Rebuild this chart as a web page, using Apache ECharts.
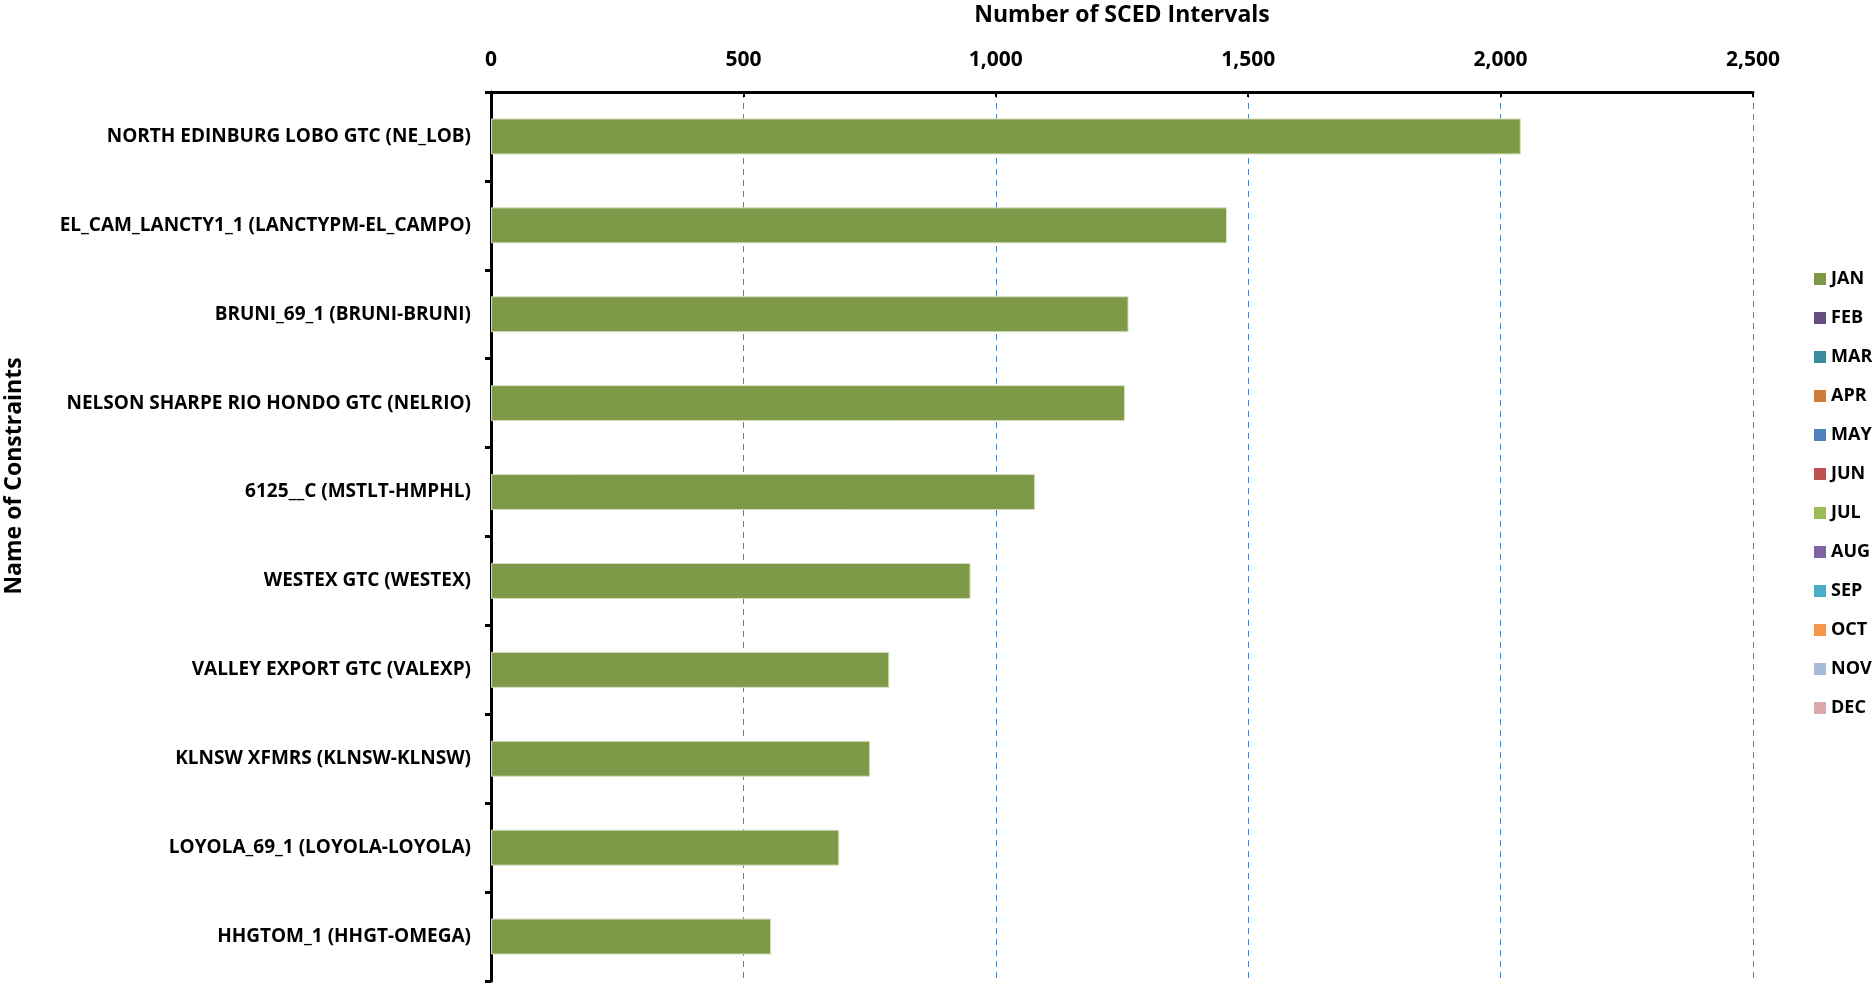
<!DOCTYPE html>
<html>
<head>
<meta charset="utf-8">
<script src="https://cdn.jsdelivr.net/npm/echarts@6/dist/echarts.min.js"></script>
<style>
  html, body { margin: 0; padding: 0; background: #fff; }
  #charts { width: 1875px; height: 989px; }
</style>
</head>
<body>
<div id="charts"></div>
<script>
// constraint names, top to bottom
const constraints = [
    'NORTH EDINBURG LOBO GTC (NE_LOB)',
    'EL_CAM_LANCTY1_1 (LANCTYPM-EL_CAMPO)',
    'BRUNI_69_1 (BRUNI-BRUNI)',
    'NELSON SHARPE RIO HONDO GTC (NELRIO)',
    '6125__C (MSTLT-HMPHL)',
    'WESTEX GTC (WESTEX)',
    'VALLEY EXPORT GTC (VALEXP)',
    'KLNSW XFMRS (KLNSW-KLNSW)',
    'LOYOLA_69_1 (LOYOLA-LOYOLA)',
    'HHGTOM_1 (HHGT-OMEGA)'
];
const months = ['JAN', 'FEB', 'MAR', 'APR', 'MAY', 'JUN', 'JUL', 'AUG', 'SEP', 'OCT', 'NOV', 'DEC'];
const monthColors = ['#7E9A48', '#654F80', '#3A8AA0', '#CF7C3A', '#4F81BD', '#C0504D',
    '#9BBB59', '#8064A2', '#4BACC6', '#F79646', '#A7B8D7', '#DAA8A9'];
// only January has data
const janIntervals = [2040, 1458, 1263, 1256, 1078, 950, 789, 751, 690, 555];

const font = '"Open Sans", "Liberation Sans", sans-serif';
const chart = echarts.init(document.getElementById('charts'));

const series = months.map((m, i) => ({
    name: m,
    type: 'bar',
    stack: 'total',
    barWidth: 36,
    itemStyle: { color: monthColors[i], borderColor: '#D6E0C4', borderWidth: i === 0 ? 1 : 0 },
    data: i === 0 ? janIntervals : []
}));

const option = {
    animation: false,
    textStyle: { fontFamily: font },
    grid: { left: 491, right: 122, top: 92, bottom: 8, outerBoundsMode: 'none', containLabel: false },
    // y axis title sits above the middle of the axis, so it is placed by hand
    graphic: [{
        type: 'text',
        x: 14,
        y: 476,
        rotation: Math.PI / 2,
        style: {
            text: 'Name of Constraints',
            font: 'bold 23px ' + font,
            fill: '#000',
            align: 'center',
            verticalAlign: 'middle'
        }
    }],
    legend: {
        orient: 'vertical',
        left: 1809,
        top: 264,
        itemWidth: 12,
        itemHeight: 12,
        itemGap: 19,
        icon: 'rect',
        itemStyle: { borderWidth: 0 },
        data: months,
        textStyle: { fontFamily: font, fontSize: 18, fontWeight: 'bold', color: '#000', lineHeight: 20 }
    },
    xAxis: {
        type: 'value',
        position: 'top',
        min: 0,
        max: 2500,
        interval: 500,
        name: 'Number of SCED Intervals',
        nameLocation: 'middle',
        nameGap: 65,
        nameTextStyle: { fontFamily: font, fontSize: 23, fontWeight: 'bold', color: '#000' },
        axisLine: { show: true, lineStyle: { color: '#000', width: 3 } },
        axisTick: { show: true, inside: true, length: 5, lineStyle: { color: '#000', width: 2 } },
        axisLabel: {
            margin: 21,
            fontFamily: font, fontSize: 21, fontWeight: 'bold', color: '#000',
            formatter: v => v.toLocaleString('en-US')
        },
        splitLine: { show: true, lineStyle: { color: '#4F81BD', type: [6, 5], width: 1 } }
    },
    yAxis: {
        type: 'category',
        inverse: true,
        data: constraints,
        axisLine: { show: true, lineStyle: { color: '#000', width: 3 } },
        axisTick: { show: true, length: 6, lineStyle: { color: '#000', width: 3 } },
        axisLabel: { margin: 20, fontFamily: font, fontSize: 19, fontWeight: 'bold', color: '#000' },
        splitLine: { show: false }
    },
    series: series
};
chart.setOption(option);
</script>
</body>
</html>
